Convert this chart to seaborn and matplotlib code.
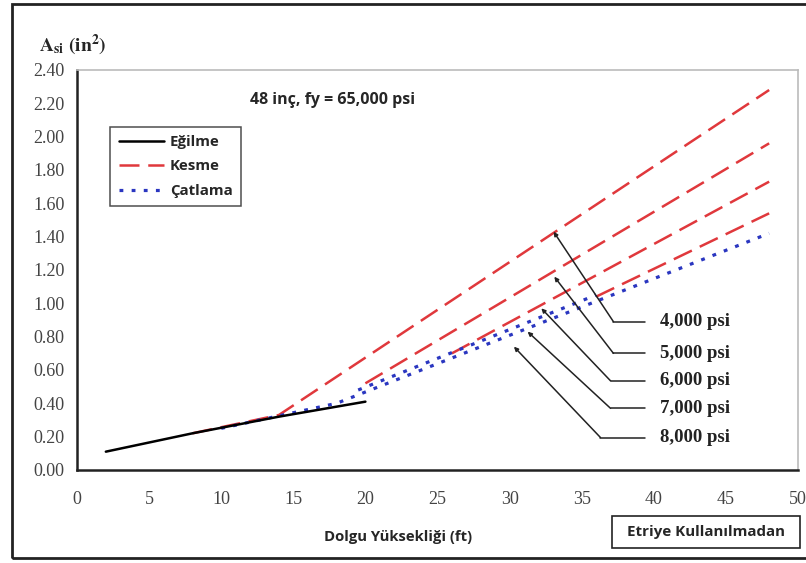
import matplotlib
matplotlib.use("Agg")
import matplotlib.pyplot as plt
import seaborn as sns
import pandas as pd
from matplotlib.lines import Line2D
from matplotlib.patches import Rectangle

# ---- data ----
egilme_x = [2, 8, 14, 20]
egilme_y = [0.11, 0.22, 0.32, 0.41]

kesme_4000_x = [8, 14, 48]
kesme_4000_y = [0.22, 0.33, 2.28]
kesme_5000_x = [20, 48]
kesme_5000_y = [0.52, 1.96]
kesme_6000_x = [26, 48]
kesme_6000_y = [0.70, 1.73]
kesme_7000_x = [36, 48]
kesme_7000_y = [1.04, 1.54]

catlama_x = [10, 18, 48]
catlama_y = [0.25, 0.40, 1.42]
catlama_b_x = [19.5, 36]
catlama_b_y = [0.48, 1.05]

x_ticks = [0, 5, 10, 15, 20, 25, 30, 35, 40, 45, 50]
y_ticks = [0.00, 0.20, 0.40, 0.60, 0.80, 1.00, 1.20, 1.40, 1.60, 1.80, 2.00, 2.20, 2.40]

ann_labels = ["4,000 psi", "5,000 psi", "6,000 psi", "7,000 psi", "8,000 psi"]
ann_tip_x = [33.05, 33.1, 32.2, 31.25, 30.3]
ann_tip_y = [1.43, 1.16, 0.97, 0.83, 0.74]
ann_elbow_x = [37.2, 37.2, 37.0, 37.0, 36.3]
ann_label_y = [0.89, 0.70, 0.535, 0.37, 0.195]

RED = "#e0383c"
BLUE = "#2a36c0"

sns.set_style("white")
plt.rcParams["mathtext.fontset"] = "stix"

fig = plt.figure(figsize=(8.06, 5.63), dpi=100)
ax = fig.add_axes([77 / 806, 1 - 470 / 563, (798 - 77) / 806, 400 / 563])

red_dash = (0, (8, 3.5))
blue_dot = (0, (1.2, 2.6))

for xs, ys in [(kesme_4000_x, kesme_4000_y), (kesme_5000_x, kesme_5000_y),
               (kesme_6000_x, kesme_6000_y), (kesme_7000_x, kesme_7000_y)]:
    sns.lineplot(x=xs, y=ys, ax=ax, color=RED, linewidth=1.8, linestyle=red_dash,
                 legend=False, zorder=3)
for xs, ys in [(catlama_x, catlama_y), (catlama_b_x, catlama_b_y)]:
    sns.lineplot(x=xs, y=ys, ax=ax, color=BLUE, linewidth=2.3, linestyle=blue_dot,
                 legend=False, zorder=3)
sns.lineplot(x=egilme_x, y=egilme_y, ax=ax, color="black", linewidth=1.8,
             legend=False, zorder=4)

ax.set_xlim(0, 50)
ax.set_ylim(0, 2.4)
ax.set_xticks(x_ticks)
ax.set_yticks(y_ticks)
ax.set_xticklabels([str(v) for v in x_ticks], family="Liberation Serif", fontsize=13, color="#444444")
ax.set_yticklabels([f"{v:.2f}" for v in y_ticks], family="Liberation Serif", fontsize=13, color="#444444")
ax.tick_params(axis="both", direction="out", length=4, width=1.2, color="#222222")
ax.tick_params(axis="y", pad=5)
ax.tick_params(axis="x", pad=11)

for s in ["left", "bottom"]:
    ax.spines[s].set_color("#222222")
    ax.spines[s].set_linewidth(1.8)
for s in ["top", "right"]:
    ax.spines[s].set_color("#bbbbbb")
    ax.spines[s].set_linewidth(1.2)

# annotations
for lab, tx, ty, ex, ly in zip(ann_labels, ann_tip_x, ann_tip_y, ann_elbow_x, ann_label_y):
    ax.plot([ex, 39.4], [ly, ly], color="#222222", lw=1.1, zorder=5)
    ax.annotate("", xy=(tx, ty), xytext=(ex, ly),
                arrowprops=dict(arrowstyle="-|>", color="#222222", lw=1.1,
                                mutation_scale=6, shrinkA=0, shrinkB=0), zorder=5)
    ax.text(40.4, ly, lab, family="Liberation Serif", fontweight="bold", fontsize=13.5,
            va="center", ha="left", color="#222222")

# legend
handles = [Line2D([], [], color="black", lw=1.8),
           Line2D([], [], color=RED, lw=1.8, linestyle=red_dash),
           Line2D([], [], color=BLUE, lw=2.3, linestyle=blue_dot)]
leg = ax.legend(handles, ["Eğilme", "Kesme", "Çatlama"], loc="upper left",
                bbox_to_anchor=(0.036, 0.877), frameon=True, fancybox=False,
                prop=dict(family="Open Sans", weight="bold", size=10.8),
                handlelength=3.0, handletextpad=0.4, borderpad=0.55, labelspacing=0.7)
leg.get_frame().set_edgecolor("#222222")
leg.get_frame().set_linewidth(1.1)

# texts
ax.text(0.24, 0.925, "48 inç, fy = 65,000 psi", transform=ax.transAxes,
        family="Open Sans", fontweight="bold", fontsize=11.5, va="center", ha="left")
ax.text(-0.053, 1.062, r"$\mathbf{A_{si}\ (in^{2})}$", transform=ax.transAxes,
        fontsize=14, va="center", ha="left")
ax.text(0.445, -0.167, "Dolgu Yüksekliği (ft)", transform=ax.transAxes,
        family="Open Sans", fontweight="bold", fontsize=10.7, va="center", ha="center")
ax.add_patch(Rectangle((0.742, -0.195), 0.261, 0.08, transform=ax.transAxes,
                       fill=False, edgecolor="#222222", lw=1.2, clip_on=False))
ax.text(0.8725, -0.155, "Etriye Kullanılmadan", transform=ax.transAxes,
        family="Open Sans", fontweight="bold", fontsize=10.9, va="center", ha="center")

# outer frame
fig.patches.append(Rectangle((12 / 806, 1 - 558 / 563), 1.0, 554 / 563,
                             transform=fig.transFigure, fill=False,
                             edgecolor="#222222", lw=2.0))

fig.savefig("out.png", dpi=100)
